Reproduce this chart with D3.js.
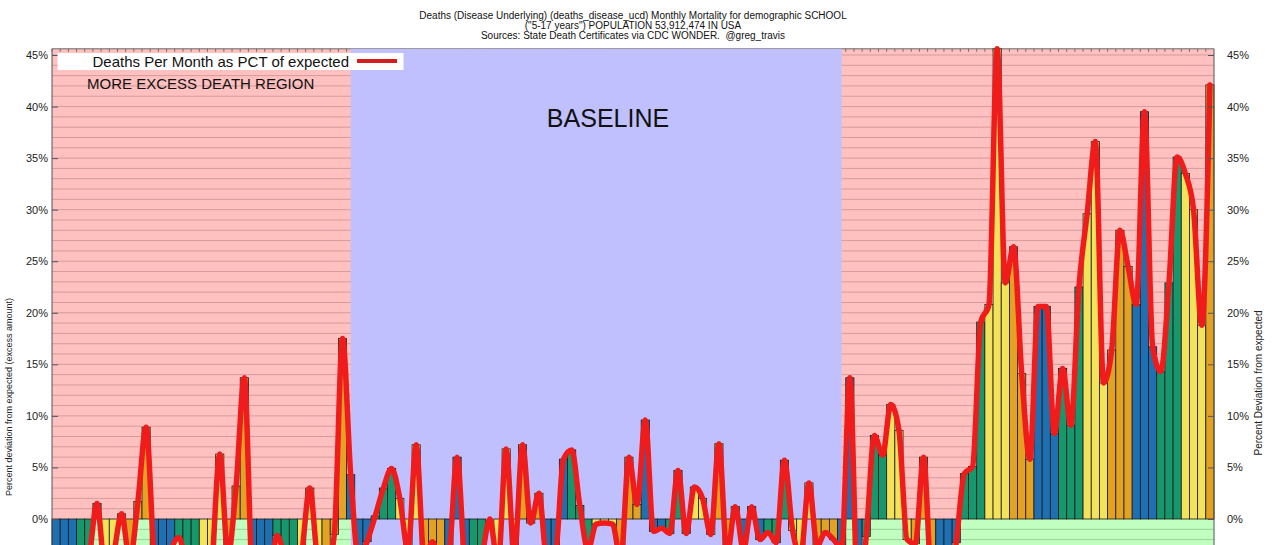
<!DOCTYPE html>
<html>
<head>
<meta charset="utf-8">
<script src="https://cdnjs.cloudflare.com/ajax/libs/d3/7.8.5/d3.min.js"></script>
<style>
  body { margin: 0; background: #fff; }
  svg { display: block; font-family: "Liberation Sans", Arial, Helvetica, sans-serif; }
</style>
</head>
<body>
<div id="chart"></div>
<script>
// monthly deaths as percent deviation from expected, one value per month
var values = [
  -6.0, -8.0, -5.0, -7.0, -4.0, 1.5, -5.0, -3.5, 0.5, -4.0, 1.7, 8.9,
  -4.0, -9.0, -3.2, -1.8, -5.0, -8.0, -10.0, -5.0, 6.3, -3.5, 3.2, 13.7,
  -6.0, -9.0, -7.0, -1.6, -4.0, -7.0, -3.5, 3.0, -4.0, -5.0, -1.5, 17.5,
  4.3, -4.0, -2.2, 0.3, 3.0, 4.9, 2.0, -3.0, 7.2, -4.0, -2.2, -5.0,
  -3.5, 6.0, -5.0, -8.0, -4.0, 0.0, -4.5, 6.8, -3.5, 7.2, -0.4, 2.5,
  -4.0, -3.5, 5.8, 6.7, 1.3, -3.0, -0.5, -0.4, -0.5, -4.0, 6.0, 1.4,
  9.6, -1.2, -0.9, -1.4, 4.7, -1.4, 3.1, 2.0, -1.5, 7.3, -3.5, 1.2,
  -3.0, 1.2, -2.0, -1.3, -2.3, 5.7, -1.1, -3.5, 3.5, -2.6, -1.3, -2.0,
  -2.8, 13.7, -8.0, -1.7, 8.1, 6.2, 11.1, 8.6, -2.0, -2.4, 6.0, -7.0,
  -10.0, -8.0, -2.3, 4.4, 5.1, 19.1, 20.8, 45.6, 22.9, 26.4, 14.1, 5.8,
  20.6, 20.6, 8.3, 14.6, 9.1, 22.5, 29.6, 36.6, 13.2, 16.4, 28.0, 24.5,
  20.8, 39.5, 16.7, 14.3, 22.9, 35.1, 33.5, 30.0, 18.8, 42.1
];
var months = d3.range(values.length);

// three months per season: winter, spring, summer, fall
var seasonColors = ['#1f70b3', '#17976c', '#f3e35b', '#e2a325'];

// baseline period runs between these month indexes (bar centres)
var baselineStart = 36;
var baselineEnd = 96;

var yTicks = [0, 5, 10, 15, 20, 25, 30, 35, 40, 45];
var yBottom = -21.7;   // lower end of the axis (below the visible crop)

var titleLines = [
  'Deaths (Disease Underlying) (deaths_disease_ucd) Monthly Mortality for demographic SCHOOL',
  '("5-17 years") POPULATION 53,912,474 IN USA',
  'Sources: State Death Certificates via CDC WONDER.  @greg_travis'
];

var width = 1280, height = 545;
var left = 52, right = 1214;

var svg = d3.select('#chart').append('svg')
    .attr('width', width)
    .attr('height', height);

var x = d3.scaleBand()
    .domain(months)
    .range([left, right])
    .padding(0);

var y = d3.scaleLinear()
    .domain([0, 45])
    .range([519, 55]);

var plotTop = y(d3.max(values));
var plotBottom = y(yBottom);
var zeroY = y(0);

function cx(i) { return x(i) + x.bandwidth() / 2; }

// pink above zero, green below
svg.append('rect')
    .attr('x', left).attr('y', plotTop)
    .attr('width', right - left).attr('height', zeroY - plotTop)
    .attr('fill', '#ffc0c0');
svg.append('rect')
    .attr('x', left).attr('y', zeroY)
    .attr('width', right - left).attr('height', plotBottom - zeroY)
    .attr('fill', '#c0ffc0');

// 1% grid
var grid = d3.range(Math.ceil(yBottom), Math.floor(d3.max(values)) + 1).filter(function(d) { return d !== 0; });
svg.append('g').selectAll('line')
    .data(grid)
    .enter()
    .append('line')
    .attr('x1', left).attr('x2', right)
    .attr('y1', function(d) { return y(d); })
    .attr('y2', function(d) { return y(d); })
    .attr('stroke', function(d) { return d > 0 ? '#d49c9c' : '#98d498'; })
    .attr('stroke-width', 1);

// month ticks along the top
svg.append('g').selectAll('line')
    .data(months)
    .enter()
    .append('line')
    .attr('x1', function(d) { return x(d); })
    .attr('x2', function(d) { return x(d); })
    .attr('y1', plotTop)
    .attr('y2', plotTop + 3)
    .attr('stroke', '#555')
    .attr('stroke-width', 0.8);

svg.append('line')
    .attr('x1', left).attr('x2', right)
    .attr('y1', plotTop).attr('y2', plotTop)
    .attr('stroke', '#666');

// baseline band
svg.append('rect')
    .attr('x', cx(baselineStart)).attr('y', plotTop)
    .attr('width', cx(baselineEnd) - cx(baselineStart))
    .attr('height', plotBottom - plotTop)
    .attr('fill', '#c0c0ff');

// bars
svg.append('g').selectAll('rect')
    .data(values)
    .enter()
    .append('rect')
    .attr('x', function(d, i) { return x(i); })
    .attr('width', x.bandwidth())
    .attr('y', function(d) { return Math.min(y(d), zeroY); })
    .attr('height', function(d) { return Math.abs(y(d) - zeroY); })
    .attr('fill', function(d, i) { return seasonColors[Math.floor((i % 12) / 3)]; })
    .attr('stroke', '#1a1a1a')
    .attr('stroke-width', 0.8);

// deviation line
var line = d3.line()
    .x(function(d, i) { return cx(i); })
    .y(function(d) { return y(d); })
    .curve(d3.curveMonotoneX);

svg.append('path')
    .datum(values)
    .attr('d', line)
    .attr('fill', 'none')
    .attr('stroke', '#f01b1b')
    .attr('stroke-width', 5.5)
    .attr('stroke-linejoin', 'round')
    .attr('stroke-linecap', 'round');

// frame
svg.append('line')
    .attr('x1', left).attr('x2', left)
    .attr('y1', plotTop).attr('y2', plotBottom)
    .attr('stroke', '#555');
svg.append('line')
    .attr('x1', right).attr('x2', right)
    .attr('y1', plotTop).attr('y2', plotBottom)
    .attr('stroke', '#555');

// axes
var fmt = function(d) { return d + '%'; };

var yLeft = svg.append('g')
    .attr('transform', 'translate(' + left + ',0)')
    .call(d3.axisLeft(y).tickValues(yTicks).tickFormat(fmt).tickSize(-6).tickPadding(4));
var yRight = svg.append('g')
    .attr('transform', 'translate(' + right + ',0)')
    .call(d3.axisRight(y).tickValues(yTicks).tickFormat(fmt).tickSize(-6).tickPadding(13));

[yLeft, yRight].forEach(function(g) {
    g.select('.domain').remove();
    g.selectAll('line').attr('stroke', '#555');
    g.selectAll('text')
        .attr('fill', '#222')
        .style('font-size', '11px')
        .style('font-family', '"Liberation Sans", Arial, sans-serif');
});

svg.append('text')
    .attr('transform', 'translate(12,397) rotate(-90)')
    .attr('text-anchor', 'middle')
    .style('font-size', '9px')
    .attr('fill', '#222')
    .text('Percent deviation from expected (excess amount)');

svg.append('text')
    .attr('transform', 'translate(1262,383) rotate(-90)')
    .attr('text-anchor', 'middle')
    .style('font-size', '10px')
    .attr('fill', '#222')
    .text('Percent Deviation from expected');

// title
svg.append('g').selectAll('text')
    .data(titleLines)
    .enter()
    .append('text')
    .attr('x', (left + right) / 2)
    .attr('y', function(d, i) { return 19 + i * 10; })
    .attr('text-anchor', 'middle')
    .style('font-size', '10px')
    .style('white-space', 'pre')
    .attr('fill', '#111')
    .text(function(d) { return d; });

// legend
svg.append('rect')
    .attr('x', 57.5).attr('y', 53)
    .attr('width', 346).attr('height', 17)
    .attr('fill', '#fff');
svg.append('text')
    .attr('x', 349).attr('y', 66.5)
    .attr('text-anchor', 'end')
    .style('font-size', '15px')
    .attr('fill', '#111')
    .text('Deaths Per Month as PCT of expected');
svg.append('line')
    .attr('x1', 357).attr('x2', 397)
    .attr('y1', 61).attr('y2', 61)
    .attr('stroke', '#d41e1e')
    .attr('stroke-width', 4);

// region labels
svg.append('text')
    .attr('x', 87).attr('y', 88.5)
    .style('font-size', '15px')
    .attr('fill', '#111')
    .text('MORE EXCESS DEATH REGION');

svg.append('text')
    .attr('x', 608).attr('y', 127)
    .attr('text-anchor', 'middle')
    .style('font-size', '25px')
    .attr('fill', '#111')
    .text('BASELINE');
</script>
</body>
</html>
